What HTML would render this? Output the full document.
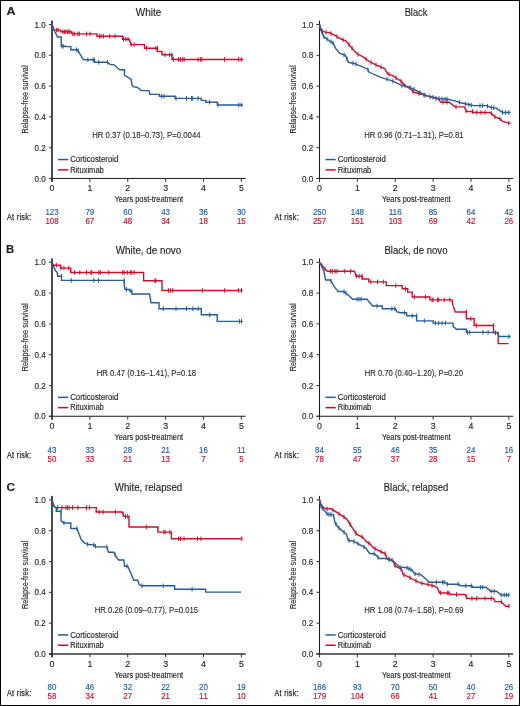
<!DOCTYPE html>
<html><head><meta charset="utf-8"><style>
html,body{margin:0;padding:0;background:#fff;}
svg{display:block;font-family:"Liberation Sans",sans-serif;will-change:transform;}
</style></head><body>
<svg width="520" height="706" viewBox="0 0 520 706">
<rect x="0" y="0" width="520" height="706" fill="#fff"/>
<text x="148.50" y="15.90" font-size="10" fill="#231f20" stroke="#231f20" stroke-width="0.15" text-anchor="middle" textLength="25.4" lengthAdjust="spacingAndGlyphs">White</text>
<rect x="51" y="20.50" width="2" height="161.40" fill="#4d4d4d"/>
<rect x="49.00" y="177.95" width="196.65" height="1.0" fill="#1a1a1a"/>
<rect x="48.90" y="178.00" width="3" height="1" fill="#333"/>
<text x="45.80" y="181.60" font-size="8.8" fill="#231f20" stroke="#231f20" stroke-width="0.15" text-anchor="end" textLength="11.2" lengthAdjust="spacingAndGlyphs">0.0</text>
<rect x="48.90" y="147.20" width="3" height="1" fill="#333"/>
<text x="45.80" y="150.80" font-size="8.8" fill="#231f20" stroke="#231f20" stroke-width="0.15" text-anchor="end" textLength="11.2" lengthAdjust="spacingAndGlyphs">0.2</text>
<rect x="48.90" y="116.40" width="3" height="1" fill="#333"/>
<text x="45.80" y="120.00" font-size="8.8" fill="#231f20" stroke="#231f20" stroke-width="0.15" text-anchor="end" textLength="11.2" lengthAdjust="spacingAndGlyphs">0.4</text>
<rect x="48.90" y="85.60" width="3" height="1" fill="#333"/>
<text x="45.80" y="89.20" font-size="8.8" fill="#231f20" stroke="#231f20" stroke-width="0.15" text-anchor="end" textLength="11.2" lengthAdjust="spacingAndGlyphs">0.6</text>
<rect x="48.90" y="54.80" width="3" height="1" fill="#333"/>
<text x="45.80" y="58.40" font-size="8.8" fill="#231f20" stroke="#231f20" stroke-width="0.15" text-anchor="end" textLength="11.2" lengthAdjust="spacingAndGlyphs">0.8</text>
<rect x="48.90" y="24.00" width="3" height="1" fill="#333"/>
<text x="45.80" y="27.60" font-size="8.8" fill="#231f20" stroke="#231f20" stroke-width="0.15" text-anchor="end" textLength="11.2" lengthAdjust="spacingAndGlyphs">1.0</text>
<rect x="51.50" y="178.50" width="1" height="3.4" fill="#333"/>
<text x="52.00" y="191.10" font-size="8.8" fill="#231f20" stroke="#231f20" stroke-width="0.15" text-anchor="middle">0</text>
<rect x="89.37" y="178.50" width="1" height="3.4" fill="#333"/>
<text x="89.87" y="191.10" font-size="8.8" fill="#231f20" stroke="#231f20" stroke-width="0.15" text-anchor="middle">1</text>
<rect x="127.24" y="178.50" width="1" height="3.4" fill="#333"/>
<text x="127.74" y="191.10" font-size="8.8" fill="#231f20" stroke="#231f20" stroke-width="0.15" text-anchor="middle">2</text>
<rect x="165.11" y="178.50" width="1" height="3.4" fill="#333"/>
<text x="165.61" y="191.10" font-size="8.8" fill="#231f20" stroke="#231f20" stroke-width="0.15" text-anchor="middle">3</text>
<rect x="202.98" y="178.50" width="1" height="3.4" fill="#333"/>
<text x="203.48" y="191.10" font-size="8.8" fill="#231f20" stroke="#231f20" stroke-width="0.15" text-anchor="middle">4</text>
<rect x="240.85" y="178.50" width="1" height="3.4" fill="#333"/>
<text x="241.35" y="191.10" font-size="8.8" fill="#231f20" stroke="#231f20" stroke-width="0.15" text-anchor="middle">5</text>
<text x="114.40" y="202.10" font-size="9.6" fill="#231f20" stroke="#231f20" stroke-width="0.15" textLength="68.8" lengthAdjust="spacingAndGlyphs">Years post-treatment</text>
<text transform="translate(28.4,99.5) rotate(-90)" font-size="9.8" fill="#231f20" stroke="#231f20" stroke-width="0.15" text-anchor="middle" textLength="68" lengthAdjust="spacingAndGlyphs">Relapse-free survival</text>
<text x="146.40" y="137.80" font-size="8.5" fill="#231f20" stroke="#231f20" stroke-width="0.1" text-anchor="middle" textLength="108.4" lengthAdjust="spacingAndGlyphs">HR 0.37 (0.18&#8211;0.73), P=0.0044</text>
<rect x="58.0" y="158.80" width="10.2" height="1.5" fill="#245e94"/>
<rect x="58.0" y="169.10" width="10.2" height="1.5" fill="#c8102e"/>
<text x="70.20" y="162.20" font-size="8.5" fill="#231f20" stroke="#231f20" stroke-width="0.15" textLength="48.2" lengthAdjust="spacingAndGlyphs">Corticosteroid</text>
<text x="70.20" y="172.50" font-size="8.5" fill="#231f20" stroke="#231f20" stroke-width="0.15" textLength="33.6" lengthAdjust="spacingAndGlyphs">Rituximab</text>
<text x="52.00" y="214.90" font-size="8.9" fill="#245e94" stroke="#245e94" stroke-width="0.15" text-anchor="middle" textLength="13.200000000000001" lengthAdjust="spacingAndGlyphs">123</text>
<text x="52.00" y="224.00" font-size="8.9" fill="#c8102e" stroke="#c8102e" stroke-width="0.15" text-anchor="middle" textLength="13.200000000000001" lengthAdjust="spacingAndGlyphs">108</text>
<text x="89.87" y="214.90" font-size="8.9" fill="#245e94" stroke="#245e94" stroke-width="0.15" text-anchor="middle" textLength="8.8" lengthAdjust="spacingAndGlyphs">79</text>
<text x="89.87" y="224.00" font-size="8.9" fill="#c8102e" stroke="#c8102e" stroke-width="0.15" text-anchor="middle" textLength="8.8" lengthAdjust="spacingAndGlyphs">67</text>
<text x="127.74" y="214.90" font-size="8.9" fill="#245e94" stroke="#245e94" stroke-width="0.15" text-anchor="middle" textLength="8.8" lengthAdjust="spacingAndGlyphs">60</text>
<text x="127.74" y="224.00" font-size="8.9" fill="#c8102e" stroke="#c8102e" stroke-width="0.15" text-anchor="middle" textLength="8.8" lengthAdjust="spacingAndGlyphs">48</text>
<text x="165.61" y="214.90" font-size="8.9" fill="#245e94" stroke="#245e94" stroke-width="0.15" text-anchor="middle" textLength="8.8" lengthAdjust="spacingAndGlyphs">43</text>
<text x="165.61" y="224.00" font-size="8.9" fill="#c8102e" stroke="#c8102e" stroke-width="0.15" text-anchor="middle" textLength="8.8" lengthAdjust="spacingAndGlyphs">34</text>
<text x="203.48" y="214.90" font-size="8.9" fill="#245e94" stroke="#245e94" stroke-width="0.15" text-anchor="middle" textLength="8.8" lengthAdjust="spacingAndGlyphs">36</text>
<text x="203.48" y="224.00" font-size="8.9" fill="#c8102e" stroke="#c8102e" stroke-width="0.15" text-anchor="middle" textLength="8.8" lengthAdjust="spacingAndGlyphs">18</text>
<text x="241.35" y="214.90" font-size="8.9" fill="#245e94" stroke="#245e94" stroke-width="0.15" text-anchor="middle" textLength="8.8" lengthAdjust="spacingAndGlyphs">30</text>
<text x="241.35" y="224.00" font-size="8.9" fill="#c8102e" stroke="#c8102e" stroke-width="0.15" text-anchor="middle" textLength="8.8" lengthAdjust="spacingAndGlyphs">15</text>
<text x="6.90" y="220.20" font-size="8.6" fill="#231f20" stroke="#231f20" stroke-width="0.25" textLength="24.6" lengthAdjust="spacingAndGlyphs" letter-spacing="0.4">At risk:</text>
<text x="6.60" y="15.10" font-size="11.3" fill="#231f20" stroke="#231f20" stroke-width="0.15" textLength="9.0" lengthAdjust="spacingAndGlyphs" font-weight="bold">A</text>
<text x="416.00" y="15.90" font-size="10" fill="#231f20" stroke="#231f20" stroke-width="0.15" text-anchor="middle" textLength="22.6" lengthAdjust="spacingAndGlyphs">Black</text>
<rect x="319" y="20.50" width="1.05" height="161.40" fill="#1a1a1a"/>
<rect x="316.50" y="177.95" width="196.65" height="1.0" fill="#1a1a1a"/>
<rect x="316.40" y="178.00" width="3" height="1" fill="#333"/>
<text x="313.30" y="181.60" font-size="8.8" fill="#231f20" stroke="#231f20" stroke-width="0.15" text-anchor="end" textLength="11.2" lengthAdjust="spacingAndGlyphs">0.0</text>
<rect x="316.40" y="147.20" width="3" height="1" fill="#333"/>
<text x="313.30" y="150.80" font-size="8.8" fill="#231f20" stroke="#231f20" stroke-width="0.15" text-anchor="end" textLength="11.2" lengthAdjust="spacingAndGlyphs">0.2</text>
<rect x="316.40" y="116.40" width="3" height="1" fill="#333"/>
<text x="313.30" y="120.00" font-size="8.8" fill="#231f20" stroke="#231f20" stroke-width="0.15" text-anchor="end" textLength="11.2" lengthAdjust="spacingAndGlyphs">0.4</text>
<rect x="316.40" y="85.60" width="3" height="1" fill="#333"/>
<text x="313.30" y="89.20" font-size="8.8" fill="#231f20" stroke="#231f20" stroke-width="0.15" text-anchor="end" textLength="11.2" lengthAdjust="spacingAndGlyphs">0.6</text>
<rect x="316.40" y="54.80" width="3" height="1" fill="#333"/>
<text x="313.30" y="58.40" font-size="8.8" fill="#231f20" stroke="#231f20" stroke-width="0.15" text-anchor="end" textLength="11.2" lengthAdjust="spacingAndGlyphs">0.8</text>
<rect x="316.40" y="24.00" width="3" height="1" fill="#333"/>
<text x="313.30" y="27.60" font-size="8.8" fill="#231f20" stroke="#231f20" stroke-width="0.15" text-anchor="end" textLength="11.2" lengthAdjust="spacingAndGlyphs">1.0</text>
<rect x="319.00" y="178.50" width="1" height="3.4" fill="#333"/>
<text x="319.50" y="191.10" font-size="8.8" fill="#231f20" stroke="#231f20" stroke-width="0.15" text-anchor="middle">0</text>
<rect x="356.87" y="178.50" width="1" height="3.4" fill="#333"/>
<text x="357.37" y="191.10" font-size="8.8" fill="#231f20" stroke="#231f20" stroke-width="0.15" text-anchor="middle">1</text>
<rect x="394.74" y="178.50" width="1" height="3.4" fill="#333"/>
<text x="395.24" y="191.10" font-size="8.8" fill="#231f20" stroke="#231f20" stroke-width="0.15" text-anchor="middle">2</text>
<rect x="432.61" y="178.50" width="1" height="3.4" fill="#333"/>
<text x="433.11" y="191.10" font-size="8.8" fill="#231f20" stroke="#231f20" stroke-width="0.15" text-anchor="middle">3</text>
<rect x="470.48" y="178.50" width="1" height="3.4" fill="#333"/>
<text x="470.98" y="191.10" font-size="8.8" fill="#231f20" stroke="#231f20" stroke-width="0.15" text-anchor="middle">4</text>
<rect x="508.35" y="178.50" width="1" height="3.4" fill="#333"/>
<text x="508.85" y="191.10" font-size="8.8" fill="#231f20" stroke="#231f20" stroke-width="0.15" text-anchor="middle">5</text>
<text x="381.90" y="202.10" font-size="9.6" fill="#231f20" stroke="#231f20" stroke-width="0.15" textLength="68.8" lengthAdjust="spacingAndGlyphs">Years post-treatment</text>
<text transform="translate(295.9,99.5) rotate(-90)" font-size="9.8" fill="#231f20" stroke="#231f20" stroke-width="0.15" text-anchor="middle" textLength="68" lengthAdjust="spacingAndGlyphs">Relapse-free survival</text>
<text x="413.90" y="137.80" font-size="8.5" fill="#231f20" stroke="#231f20" stroke-width="0.1" text-anchor="middle" textLength="99.5" lengthAdjust="spacingAndGlyphs">HR 0.96 (0.71&#8211;1.31), P=0.81</text>
<rect x="325.5" y="158.80" width="10.2" height="1.5" fill="#245e94"/>
<rect x="325.5" y="169.10" width="10.2" height="1.5" fill="#c8102e"/>
<text x="337.70" y="162.20" font-size="8.5" fill="#231f20" stroke="#231f20" stroke-width="0.15" textLength="48.2" lengthAdjust="spacingAndGlyphs">Corticosteroid</text>
<text x="337.70" y="172.50" font-size="8.5" fill="#231f20" stroke="#231f20" stroke-width="0.15" textLength="33.6" lengthAdjust="spacingAndGlyphs">Rituximab</text>
<text x="319.50" y="214.90" font-size="8.9" fill="#245e94" stroke="#245e94" stroke-width="0.15" text-anchor="middle" textLength="13.200000000000001" lengthAdjust="spacingAndGlyphs">250</text>
<text x="319.50" y="224.00" font-size="8.9" fill="#c8102e" stroke="#c8102e" stroke-width="0.15" text-anchor="middle" textLength="13.200000000000001" lengthAdjust="spacingAndGlyphs">257</text>
<text x="357.37" y="214.90" font-size="8.9" fill="#245e94" stroke="#245e94" stroke-width="0.15" text-anchor="middle" textLength="13.200000000000001" lengthAdjust="spacingAndGlyphs">148</text>
<text x="357.37" y="224.00" font-size="8.9" fill="#c8102e" stroke="#c8102e" stroke-width="0.15" text-anchor="middle" textLength="13.200000000000001" lengthAdjust="spacingAndGlyphs">151</text>
<text x="395.24" y="214.90" font-size="8.9" fill="#245e94" stroke="#245e94" stroke-width="0.15" text-anchor="middle" textLength="13.200000000000001" lengthAdjust="spacingAndGlyphs">116</text>
<text x="395.24" y="224.00" font-size="8.9" fill="#c8102e" stroke="#c8102e" stroke-width="0.15" text-anchor="middle" textLength="13.200000000000001" lengthAdjust="spacingAndGlyphs">103</text>
<text x="433.11" y="214.90" font-size="8.9" fill="#245e94" stroke="#245e94" stroke-width="0.15" text-anchor="middle" textLength="8.8" lengthAdjust="spacingAndGlyphs">85</text>
<text x="433.11" y="224.00" font-size="8.9" fill="#c8102e" stroke="#c8102e" stroke-width="0.15" text-anchor="middle" textLength="8.8" lengthAdjust="spacingAndGlyphs">69</text>
<text x="470.98" y="214.90" font-size="8.9" fill="#245e94" stroke="#245e94" stroke-width="0.15" text-anchor="middle" textLength="8.8" lengthAdjust="spacingAndGlyphs">64</text>
<text x="470.98" y="224.00" font-size="8.9" fill="#c8102e" stroke="#c8102e" stroke-width="0.15" text-anchor="middle" textLength="8.8" lengthAdjust="spacingAndGlyphs">42</text>
<text x="508.85" y="214.90" font-size="8.9" fill="#245e94" stroke="#245e94" stroke-width="0.15" text-anchor="middle" textLength="8.8" lengthAdjust="spacingAndGlyphs">42</text>
<text x="508.85" y="224.00" font-size="8.9" fill="#c8102e" stroke="#c8102e" stroke-width="0.15" text-anchor="middle" textLength="8.8" lengthAdjust="spacingAndGlyphs">26</text>
<text x="274.40" y="220.20" font-size="8.6" fill="#231f20" stroke="#231f20" stroke-width="0.25" textLength="24.6" lengthAdjust="spacingAndGlyphs" letter-spacing="0.4">At risk:</text>
<text x="148.50" y="253.70" font-size="10" fill="#231f20" stroke="#231f20" stroke-width="0.15" text-anchor="middle" textLength="65.5" lengthAdjust="spacingAndGlyphs">White, de novo</text>
<rect x="51" y="258.30" width="2" height="161.40" fill="#4d4d4d"/>
<rect x="49.00" y="415.75" width="196.65" height="1.0" fill="#1a1a1a"/>
<rect x="48.90" y="415.80" width="3" height="1" fill="#333"/>
<text x="45.80" y="419.40" font-size="8.8" fill="#231f20" stroke="#231f20" stroke-width="0.15" text-anchor="end" textLength="11.2" lengthAdjust="spacingAndGlyphs">0.0</text>
<rect x="48.90" y="385.00" width="3" height="1" fill="#333"/>
<text x="45.80" y="388.60" font-size="8.8" fill="#231f20" stroke="#231f20" stroke-width="0.15" text-anchor="end" textLength="11.2" lengthAdjust="spacingAndGlyphs">0.2</text>
<rect x="48.90" y="354.20" width="3" height="1" fill="#333"/>
<text x="45.80" y="357.80" font-size="8.8" fill="#231f20" stroke="#231f20" stroke-width="0.15" text-anchor="end" textLength="11.2" lengthAdjust="spacingAndGlyphs">0.4</text>
<rect x="48.90" y="323.40" width="3" height="1" fill="#333"/>
<text x="45.80" y="327.00" font-size="8.8" fill="#231f20" stroke="#231f20" stroke-width="0.15" text-anchor="end" textLength="11.2" lengthAdjust="spacingAndGlyphs">0.6</text>
<rect x="48.90" y="292.60" width="3" height="1" fill="#333"/>
<text x="45.80" y="296.20" font-size="8.8" fill="#231f20" stroke="#231f20" stroke-width="0.15" text-anchor="end" textLength="11.2" lengthAdjust="spacingAndGlyphs">0.8</text>
<rect x="48.90" y="261.80" width="3" height="1" fill="#333"/>
<text x="45.80" y="265.40" font-size="8.8" fill="#231f20" stroke="#231f20" stroke-width="0.15" text-anchor="end" textLength="11.2" lengthAdjust="spacingAndGlyphs">1.0</text>
<rect x="51.50" y="416.30" width="1" height="3.4" fill="#333"/>
<text x="52.00" y="428.90" font-size="8.8" fill="#231f20" stroke="#231f20" stroke-width="0.15" text-anchor="middle">0</text>
<rect x="89.37" y="416.30" width="1" height="3.4" fill="#333"/>
<text x="89.87" y="428.90" font-size="8.8" fill="#231f20" stroke="#231f20" stroke-width="0.15" text-anchor="middle">1</text>
<rect x="127.24" y="416.30" width="1" height="3.4" fill="#333"/>
<text x="127.74" y="428.90" font-size="8.8" fill="#231f20" stroke="#231f20" stroke-width="0.15" text-anchor="middle">2</text>
<rect x="165.11" y="416.30" width="1" height="3.4" fill="#333"/>
<text x="165.61" y="428.90" font-size="8.8" fill="#231f20" stroke="#231f20" stroke-width="0.15" text-anchor="middle">3</text>
<rect x="202.98" y="416.30" width="1" height="3.4" fill="#333"/>
<text x="203.48" y="428.90" font-size="8.8" fill="#231f20" stroke="#231f20" stroke-width="0.15" text-anchor="middle">4</text>
<rect x="240.85" y="416.30" width="1" height="3.4" fill="#333"/>
<text x="241.35" y="428.90" font-size="8.8" fill="#231f20" stroke="#231f20" stroke-width="0.15" text-anchor="middle">5</text>
<text x="114.40" y="439.90" font-size="9.6" fill="#231f20" stroke="#231f20" stroke-width="0.15" textLength="68.8" lengthAdjust="spacingAndGlyphs">Years post-treatment</text>
<text transform="translate(28.4,337.3) rotate(-90)" font-size="9.8" fill="#231f20" stroke="#231f20" stroke-width="0.15" text-anchor="middle" textLength="68" lengthAdjust="spacingAndGlyphs">Relapse-free survival</text>
<text x="146.40" y="375.60" font-size="8.5" fill="#231f20" stroke="#231f20" stroke-width="0.1" text-anchor="middle" textLength="99.5" lengthAdjust="spacingAndGlyphs">HR 0.47 (0.16&#8211;1.41), P=0.18</text>
<rect x="58.0" y="396.60" width="10.2" height="1.5" fill="#245e94"/>
<rect x="58.0" y="406.90" width="10.2" height="1.5" fill="#c8102e"/>
<text x="70.20" y="400.00" font-size="8.5" fill="#231f20" stroke="#231f20" stroke-width="0.15" textLength="48.2" lengthAdjust="spacingAndGlyphs">Corticosteroid</text>
<text x="70.20" y="410.30" font-size="8.5" fill="#231f20" stroke="#231f20" stroke-width="0.15" textLength="33.6" lengthAdjust="spacingAndGlyphs">Rituximab</text>
<text x="52.00" y="452.70" font-size="8.9" fill="#245e94" stroke="#245e94" stroke-width="0.15" text-anchor="middle" textLength="8.8" lengthAdjust="spacingAndGlyphs">43</text>
<text x="52.00" y="461.80" font-size="8.9" fill="#c8102e" stroke="#c8102e" stroke-width="0.15" text-anchor="middle" textLength="8.8" lengthAdjust="spacingAndGlyphs">50</text>
<text x="89.87" y="452.70" font-size="8.9" fill="#245e94" stroke="#245e94" stroke-width="0.15" text-anchor="middle" textLength="8.8" lengthAdjust="spacingAndGlyphs">33</text>
<text x="89.87" y="461.80" font-size="8.9" fill="#c8102e" stroke="#c8102e" stroke-width="0.15" text-anchor="middle" textLength="8.8" lengthAdjust="spacingAndGlyphs">33</text>
<text x="127.74" y="452.70" font-size="8.9" fill="#245e94" stroke="#245e94" stroke-width="0.15" text-anchor="middle" textLength="8.8" lengthAdjust="spacingAndGlyphs">28</text>
<text x="127.74" y="461.80" font-size="8.9" fill="#c8102e" stroke="#c8102e" stroke-width="0.15" text-anchor="middle" textLength="8.8" lengthAdjust="spacingAndGlyphs">21</text>
<text x="165.61" y="452.70" font-size="8.9" fill="#245e94" stroke="#245e94" stroke-width="0.15" text-anchor="middle" textLength="8.8" lengthAdjust="spacingAndGlyphs">21</text>
<text x="165.61" y="461.80" font-size="8.9" fill="#c8102e" stroke="#c8102e" stroke-width="0.15" text-anchor="middle" textLength="8.8" lengthAdjust="spacingAndGlyphs">13</text>
<text x="203.48" y="452.70" font-size="8.9" fill="#245e94" stroke="#245e94" stroke-width="0.15" text-anchor="middle" textLength="8.8" lengthAdjust="spacingAndGlyphs">16</text>
<text x="203.48" y="461.80" font-size="8.9" fill="#c8102e" stroke="#c8102e" stroke-width="0.15" text-anchor="middle" textLength="4.4" lengthAdjust="spacingAndGlyphs">7</text>
<text x="241.35" y="452.70" font-size="8.9" fill="#245e94" stroke="#245e94" stroke-width="0.15" text-anchor="middle" textLength="8.8" lengthAdjust="spacingAndGlyphs">11</text>
<text x="241.35" y="461.80" font-size="8.9" fill="#c8102e" stroke="#c8102e" stroke-width="0.15" text-anchor="middle" textLength="4.4" lengthAdjust="spacingAndGlyphs">5</text>
<text x="6.90" y="458.00" font-size="8.6" fill="#231f20" stroke="#231f20" stroke-width="0.25" textLength="24.6" lengthAdjust="spacingAndGlyphs" letter-spacing="0.4">At risk:</text>
<text x="6.00" y="252.90" font-size="11.3" fill="#231f20" stroke="#231f20" stroke-width="0.15" textLength="8.2" lengthAdjust="spacingAndGlyphs" font-weight="bold">B</text>
<text x="416.00" y="253.70" font-size="10" fill="#231f20" stroke="#231f20" stroke-width="0.15" text-anchor="middle" textLength="63.1" lengthAdjust="spacingAndGlyphs">Black, de novo</text>
<rect x="319" y="258.30" width="1.05" height="161.40" fill="#1a1a1a"/>
<rect x="316.50" y="415.75" width="196.65" height="1.0" fill="#1a1a1a"/>
<rect x="316.40" y="415.80" width="3" height="1" fill="#333"/>
<text x="313.30" y="419.40" font-size="8.8" fill="#231f20" stroke="#231f20" stroke-width="0.15" text-anchor="end" textLength="11.2" lengthAdjust="spacingAndGlyphs">0.0</text>
<rect x="316.40" y="385.00" width="3" height="1" fill="#333"/>
<text x="313.30" y="388.60" font-size="8.8" fill="#231f20" stroke="#231f20" stroke-width="0.15" text-anchor="end" textLength="11.2" lengthAdjust="spacingAndGlyphs">0.2</text>
<rect x="316.40" y="354.20" width="3" height="1" fill="#333"/>
<text x="313.30" y="357.80" font-size="8.8" fill="#231f20" stroke="#231f20" stroke-width="0.15" text-anchor="end" textLength="11.2" lengthAdjust="spacingAndGlyphs">0.4</text>
<rect x="316.40" y="323.40" width="3" height="1" fill="#333"/>
<text x="313.30" y="327.00" font-size="8.8" fill="#231f20" stroke="#231f20" stroke-width="0.15" text-anchor="end" textLength="11.2" lengthAdjust="spacingAndGlyphs">0.6</text>
<rect x="316.40" y="292.60" width="3" height="1" fill="#333"/>
<text x="313.30" y="296.20" font-size="8.8" fill="#231f20" stroke="#231f20" stroke-width="0.15" text-anchor="end" textLength="11.2" lengthAdjust="spacingAndGlyphs">0.8</text>
<rect x="316.40" y="261.80" width="3" height="1" fill="#333"/>
<text x="313.30" y="265.40" font-size="8.8" fill="#231f20" stroke="#231f20" stroke-width="0.15" text-anchor="end" textLength="11.2" lengthAdjust="spacingAndGlyphs">1.0</text>
<rect x="319.00" y="416.30" width="1" height="3.4" fill="#333"/>
<text x="319.50" y="428.90" font-size="8.8" fill="#231f20" stroke="#231f20" stroke-width="0.15" text-anchor="middle">0</text>
<rect x="356.87" y="416.30" width="1" height="3.4" fill="#333"/>
<text x="357.37" y="428.90" font-size="8.8" fill="#231f20" stroke="#231f20" stroke-width="0.15" text-anchor="middle">1</text>
<rect x="394.74" y="416.30" width="1" height="3.4" fill="#333"/>
<text x="395.24" y="428.90" font-size="8.8" fill="#231f20" stroke="#231f20" stroke-width="0.15" text-anchor="middle">2</text>
<rect x="432.61" y="416.30" width="1" height="3.4" fill="#333"/>
<text x="433.11" y="428.90" font-size="8.8" fill="#231f20" stroke="#231f20" stroke-width="0.15" text-anchor="middle">3</text>
<rect x="470.48" y="416.30" width="1" height="3.4" fill="#333"/>
<text x="470.98" y="428.90" font-size="8.8" fill="#231f20" stroke="#231f20" stroke-width="0.15" text-anchor="middle">4</text>
<rect x="508.35" y="416.30" width="1" height="3.4" fill="#333"/>
<text x="508.85" y="428.90" font-size="8.8" fill="#231f20" stroke="#231f20" stroke-width="0.15" text-anchor="middle">5</text>
<text x="381.90" y="439.90" font-size="9.6" fill="#231f20" stroke="#231f20" stroke-width="0.15" textLength="68.8" lengthAdjust="spacingAndGlyphs">Years post-treatment</text>
<text transform="translate(295.9,337.3) rotate(-90)" font-size="9.8" fill="#231f20" stroke="#231f20" stroke-width="0.15" text-anchor="middle" textLength="68" lengthAdjust="spacingAndGlyphs">Relapse-free survival</text>
<text x="413.90" y="375.60" font-size="8.5" fill="#231f20" stroke="#231f20" stroke-width="0.1" text-anchor="middle" textLength="98.3" lengthAdjust="spacingAndGlyphs">HR 0.70 (0.40&#8211;1.20), P=0.20</text>
<rect x="325.5" y="396.60" width="10.2" height="1.5" fill="#245e94"/>
<rect x="325.5" y="406.90" width="10.2" height="1.5" fill="#c8102e"/>
<text x="337.70" y="400.00" font-size="8.5" fill="#231f20" stroke="#231f20" stroke-width="0.15" textLength="48.2" lengthAdjust="spacingAndGlyphs">Corticosteroid</text>
<text x="337.70" y="410.30" font-size="8.5" fill="#231f20" stroke="#231f20" stroke-width="0.15" textLength="33.6" lengthAdjust="spacingAndGlyphs">Rituximab</text>
<text x="319.50" y="452.70" font-size="8.9" fill="#245e94" stroke="#245e94" stroke-width="0.15" text-anchor="middle" textLength="8.8" lengthAdjust="spacingAndGlyphs">84</text>
<text x="319.50" y="461.80" font-size="8.9" fill="#c8102e" stroke="#c8102e" stroke-width="0.15" text-anchor="middle" textLength="8.8" lengthAdjust="spacingAndGlyphs">78</text>
<text x="357.37" y="452.70" font-size="8.9" fill="#245e94" stroke="#245e94" stroke-width="0.15" text-anchor="middle" textLength="8.8" lengthAdjust="spacingAndGlyphs">55</text>
<text x="357.37" y="461.80" font-size="8.9" fill="#c8102e" stroke="#c8102e" stroke-width="0.15" text-anchor="middle" textLength="8.8" lengthAdjust="spacingAndGlyphs">47</text>
<text x="395.24" y="452.70" font-size="8.9" fill="#245e94" stroke="#245e94" stroke-width="0.15" text-anchor="middle" textLength="8.8" lengthAdjust="spacingAndGlyphs">46</text>
<text x="395.24" y="461.80" font-size="8.9" fill="#c8102e" stroke="#c8102e" stroke-width="0.15" text-anchor="middle" textLength="8.8" lengthAdjust="spacingAndGlyphs">37</text>
<text x="433.11" y="452.70" font-size="8.9" fill="#245e94" stroke="#245e94" stroke-width="0.15" text-anchor="middle" textLength="8.8" lengthAdjust="spacingAndGlyphs">35</text>
<text x="433.11" y="461.80" font-size="8.9" fill="#c8102e" stroke="#c8102e" stroke-width="0.15" text-anchor="middle" textLength="8.8" lengthAdjust="spacingAndGlyphs">28</text>
<text x="470.98" y="452.70" font-size="8.9" fill="#245e94" stroke="#245e94" stroke-width="0.15" text-anchor="middle" textLength="8.8" lengthAdjust="spacingAndGlyphs">24</text>
<text x="470.98" y="461.80" font-size="8.9" fill="#c8102e" stroke="#c8102e" stroke-width="0.15" text-anchor="middle" textLength="8.8" lengthAdjust="spacingAndGlyphs">15</text>
<text x="508.85" y="452.70" font-size="8.9" fill="#245e94" stroke="#245e94" stroke-width="0.15" text-anchor="middle" textLength="8.8" lengthAdjust="spacingAndGlyphs">16</text>
<text x="508.85" y="461.80" font-size="8.9" fill="#c8102e" stroke="#c8102e" stroke-width="0.15" text-anchor="middle" textLength="4.4" lengthAdjust="spacingAndGlyphs">7</text>
<text x="274.40" y="458.00" font-size="8.6" fill="#231f20" stroke="#231f20" stroke-width="0.25" textLength="24.6" lengthAdjust="spacingAndGlyphs" letter-spacing="0.4">At risk:</text>
<text x="148.50" y="491.30" font-size="10" fill="#231f20" stroke="#231f20" stroke-width="0.15" text-anchor="middle" textLength="67.5" lengthAdjust="spacingAndGlyphs">White, relapsed</text>
<rect x="51" y="495.90" width="2" height="161.40" fill="#4d4d4d"/>
<rect x="49.00" y="653.35" width="196.65" height="1.3" fill="#1a1a1a"/>
<rect x="48.90" y="653.40" width="3" height="1" fill="#333"/>
<text x="45.80" y="657.00" font-size="8.8" fill="#231f20" stroke="#231f20" stroke-width="0.15" text-anchor="end" textLength="11.2" lengthAdjust="spacingAndGlyphs">0.0</text>
<rect x="48.90" y="622.60" width="3" height="1" fill="#333"/>
<text x="45.80" y="626.20" font-size="8.8" fill="#231f20" stroke="#231f20" stroke-width="0.15" text-anchor="end" textLength="11.2" lengthAdjust="spacingAndGlyphs">0.2</text>
<rect x="48.90" y="591.80" width="3" height="1" fill="#333"/>
<text x="45.80" y="595.40" font-size="8.8" fill="#231f20" stroke="#231f20" stroke-width="0.15" text-anchor="end" textLength="11.2" lengthAdjust="spacingAndGlyphs">0.4</text>
<rect x="48.90" y="561.00" width="3" height="1" fill="#333"/>
<text x="45.80" y="564.60" font-size="8.8" fill="#231f20" stroke="#231f20" stroke-width="0.15" text-anchor="end" textLength="11.2" lengthAdjust="spacingAndGlyphs">0.6</text>
<rect x="48.90" y="530.20" width="3" height="1" fill="#333"/>
<text x="45.80" y="533.80" font-size="8.8" fill="#231f20" stroke="#231f20" stroke-width="0.15" text-anchor="end" textLength="11.2" lengthAdjust="spacingAndGlyphs">0.8</text>
<rect x="48.90" y="499.40" width="3" height="1" fill="#333"/>
<text x="45.80" y="503.00" font-size="8.8" fill="#231f20" stroke="#231f20" stroke-width="0.15" text-anchor="end" textLength="11.2" lengthAdjust="spacingAndGlyphs">1.0</text>
<rect x="51.50" y="653.90" width="1" height="3.4" fill="#333"/>
<text x="52.00" y="666.50" font-size="8.8" fill="#231f20" stroke="#231f20" stroke-width="0.15" text-anchor="middle">0</text>
<rect x="89.37" y="653.90" width="1" height="3.4" fill="#333"/>
<text x="89.87" y="666.50" font-size="8.8" fill="#231f20" stroke="#231f20" stroke-width="0.15" text-anchor="middle">1</text>
<rect x="127.24" y="653.90" width="1" height="3.4" fill="#333"/>
<text x="127.74" y="666.50" font-size="8.8" fill="#231f20" stroke="#231f20" stroke-width="0.15" text-anchor="middle">2</text>
<rect x="165.11" y="653.90" width="1" height="3.4" fill="#333"/>
<text x="165.61" y="666.50" font-size="8.8" fill="#231f20" stroke="#231f20" stroke-width="0.15" text-anchor="middle">3</text>
<rect x="202.98" y="653.90" width="1" height="3.4" fill="#333"/>
<text x="203.48" y="666.50" font-size="8.8" fill="#231f20" stroke="#231f20" stroke-width="0.15" text-anchor="middle">4</text>
<rect x="240.85" y="653.90" width="1" height="3.4" fill="#333"/>
<text x="241.35" y="666.50" font-size="8.8" fill="#231f20" stroke="#231f20" stroke-width="0.15" text-anchor="middle">5</text>
<text x="114.40" y="677.50" font-size="9.6" fill="#231f20" stroke="#231f20" stroke-width="0.15" textLength="68.8" lengthAdjust="spacingAndGlyphs">Years post-treatment</text>
<text transform="translate(28.4,574.9) rotate(-90)" font-size="9.8" fill="#231f20" stroke="#231f20" stroke-width="0.15" text-anchor="middle" textLength="68" lengthAdjust="spacingAndGlyphs">Relapse-free survival</text>
<text x="146.40" y="613.20" font-size="8.5" fill="#231f20" stroke="#231f20" stroke-width="0.1" text-anchor="middle" textLength="103.4" lengthAdjust="spacingAndGlyphs">HR 0.26 (0.09&#8211;0.77), P=0.015</text>
<rect x="58.0" y="634.20" width="10.2" height="1.5" fill="#245e94"/>
<rect x="58.0" y="644.50" width="10.2" height="1.5" fill="#c8102e"/>
<text x="70.20" y="637.60" font-size="8.5" fill="#231f20" stroke="#231f20" stroke-width="0.15" textLength="48.2" lengthAdjust="spacingAndGlyphs">Corticosteroid</text>
<text x="70.20" y="647.90" font-size="8.5" fill="#231f20" stroke="#231f20" stroke-width="0.15" textLength="33.6" lengthAdjust="spacingAndGlyphs">Rituximab</text>
<text x="52.00" y="690.30" font-size="8.9" fill="#245e94" stroke="#245e94" stroke-width="0.15" text-anchor="middle" textLength="8.8" lengthAdjust="spacingAndGlyphs">80</text>
<text x="52.00" y="699.40" font-size="8.9" fill="#c8102e" stroke="#c8102e" stroke-width="0.15" text-anchor="middle" textLength="8.8" lengthAdjust="spacingAndGlyphs">58</text>
<text x="89.87" y="690.30" font-size="8.9" fill="#245e94" stroke="#245e94" stroke-width="0.15" text-anchor="middle" textLength="8.8" lengthAdjust="spacingAndGlyphs">46</text>
<text x="89.87" y="699.40" font-size="8.9" fill="#c8102e" stroke="#c8102e" stroke-width="0.15" text-anchor="middle" textLength="8.8" lengthAdjust="spacingAndGlyphs">34</text>
<text x="127.74" y="690.30" font-size="8.9" fill="#245e94" stroke="#245e94" stroke-width="0.15" text-anchor="middle" textLength="8.8" lengthAdjust="spacingAndGlyphs">32</text>
<text x="127.74" y="699.40" font-size="8.9" fill="#c8102e" stroke="#c8102e" stroke-width="0.15" text-anchor="middle" textLength="8.8" lengthAdjust="spacingAndGlyphs">27</text>
<text x="165.61" y="690.30" font-size="8.9" fill="#245e94" stroke="#245e94" stroke-width="0.15" text-anchor="middle" textLength="8.8" lengthAdjust="spacingAndGlyphs">22</text>
<text x="165.61" y="699.40" font-size="8.9" fill="#c8102e" stroke="#c8102e" stroke-width="0.15" text-anchor="middle" textLength="8.8" lengthAdjust="spacingAndGlyphs">21</text>
<text x="203.48" y="690.30" font-size="8.9" fill="#245e94" stroke="#245e94" stroke-width="0.15" text-anchor="middle" textLength="8.8" lengthAdjust="spacingAndGlyphs">20</text>
<text x="203.48" y="699.40" font-size="8.9" fill="#c8102e" stroke="#c8102e" stroke-width="0.15" text-anchor="middle" textLength="8.8" lengthAdjust="spacingAndGlyphs">11</text>
<text x="241.35" y="690.30" font-size="8.9" fill="#245e94" stroke="#245e94" stroke-width="0.15" text-anchor="middle" textLength="8.8" lengthAdjust="spacingAndGlyphs">19</text>
<text x="241.35" y="699.40" font-size="8.9" fill="#c8102e" stroke="#c8102e" stroke-width="0.15" text-anchor="middle" textLength="8.8" lengthAdjust="spacingAndGlyphs">10</text>
<text x="6.90" y="695.60" font-size="8.6" fill="#231f20" stroke="#231f20" stroke-width="0.25" textLength="24.6" lengthAdjust="spacingAndGlyphs" letter-spacing="0.4">At risk:</text>
<text x="6.40" y="490.50" font-size="11.3" fill="#231f20" stroke="#231f20" stroke-width="0.15" textLength="8.6" lengthAdjust="spacingAndGlyphs" font-weight="bold">C</text>
<text x="416.00" y="491.30" font-size="10" fill="#231f20" stroke="#231f20" stroke-width="0.15" text-anchor="middle" textLength="64.5" lengthAdjust="spacingAndGlyphs">Black, relapsed</text>
<rect x="319" y="495.90" width="1.05" height="161.40" fill="#1a1a1a"/>
<rect x="316.50" y="653.35" width="196.65" height="1.3" fill="#1a1a1a"/>
<rect x="316.40" y="653.40" width="3" height="1" fill="#333"/>
<text x="313.30" y="657.00" font-size="8.8" fill="#231f20" stroke="#231f20" stroke-width="0.15" text-anchor="end" textLength="11.2" lengthAdjust="spacingAndGlyphs">0.0</text>
<rect x="316.40" y="622.60" width="3" height="1" fill="#333"/>
<text x="313.30" y="626.20" font-size="8.8" fill="#231f20" stroke="#231f20" stroke-width="0.15" text-anchor="end" textLength="11.2" lengthAdjust="spacingAndGlyphs">0.2</text>
<rect x="316.40" y="591.80" width="3" height="1" fill="#333"/>
<text x="313.30" y="595.40" font-size="8.8" fill="#231f20" stroke="#231f20" stroke-width="0.15" text-anchor="end" textLength="11.2" lengthAdjust="spacingAndGlyphs">0.4</text>
<rect x="316.40" y="561.00" width="3" height="1" fill="#333"/>
<text x="313.30" y="564.60" font-size="8.8" fill="#231f20" stroke="#231f20" stroke-width="0.15" text-anchor="end" textLength="11.2" lengthAdjust="spacingAndGlyphs">0.6</text>
<rect x="316.40" y="530.20" width="3" height="1" fill="#333"/>
<text x="313.30" y="533.80" font-size="8.8" fill="#231f20" stroke="#231f20" stroke-width="0.15" text-anchor="end" textLength="11.2" lengthAdjust="spacingAndGlyphs">0.8</text>
<rect x="316.40" y="499.40" width="3" height="1" fill="#333"/>
<text x="313.30" y="503.00" font-size="8.8" fill="#231f20" stroke="#231f20" stroke-width="0.15" text-anchor="end" textLength="11.2" lengthAdjust="spacingAndGlyphs">1.0</text>
<rect x="319.00" y="653.90" width="1" height="3.4" fill="#333"/>
<text x="319.50" y="666.50" font-size="8.8" fill="#231f20" stroke="#231f20" stroke-width="0.15" text-anchor="middle">0</text>
<rect x="356.87" y="653.90" width="1" height="3.4" fill="#333"/>
<text x="357.37" y="666.50" font-size="8.8" fill="#231f20" stroke="#231f20" stroke-width="0.15" text-anchor="middle">1</text>
<rect x="394.74" y="653.90" width="1" height="3.4" fill="#333"/>
<text x="395.24" y="666.50" font-size="8.8" fill="#231f20" stroke="#231f20" stroke-width="0.15" text-anchor="middle">2</text>
<rect x="432.61" y="653.90" width="1" height="3.4" fill="#333"/>
<text x="433.11" y="666.50" font-size="8.8" fill="#231f20" stroke="#231f20" stroke-width="0.15" text-anchor="middle">3</text>
<rect x="470.48" y="653.90" width="1" height="3.4" fill="#333"/>
<text x="470.98" y="666.50" font-size="8.8" fill="#231f20" stroke="#231f20" stroke-width="0.15" text-anchor="middle">4</text>
<rect x="508.35" y="653.90" width="1" height="3.4" fill="#333"/>
<text x="508.85" y="666.50" font-size="8.8" fill="#231f20" stroke="#231f20" stroke-width="0.15" text-anchor="middle">5</text>
<text x="381.90" y="677.50" font-size="9.6" fill="#231f20" stroke="#231f20" stroke-width="0.15" textLength="68.8" lengthAdjust="spacingAndGlyphs">Years post-treatment</text>
<text transform="translate(295.9,574.9) rotate(-90)" font-size="9.8" fill="#231f20" stroke="#231f20" stroke-width="0.15" text-anchor="middle" textLength="68" lengthAdjust="spacingAndGlyphs">Relapse-free survival</text>
<text x="413.90" y="613.20" font-size="8.5" fill="#231f20" stroke="#231f20" stroke-width="0.1" text-anchor="middle" textLength="99.5" lengthAdjust="spacingAndGlyphs">HR 1.08 (0.74&#8211;1.58), P=0.69</text>
<rect x="325.5" y="634.20" width="10.2" height="1.5" fill="#245e94"/>
<rect x="325.5" y="644.50" width="10.2" height="1.5" fill="#c8102e"/>
<text x="337.70" y="637.60" font-size="8.5" fill="#231f20" stroke="#231f20" stroke-width="0.15" textLength="48.2" lengthAdjust="spacingAndGlyphs">Corticosteroid</text>
<text x="337.70" y="647.90" font-size="8.5" fill="#231f20" stroke="#231f20" stroke-width="0.15" textLength="33.6" lengthAdjust="spacingAndGlyphs">Rituximab</text>
<text x="319.50" y="690.30" font-size="8.9" fill="#245e94" stroke="#245e94" stroke-width="0.15" text-anchor="middle" textLength="13.200000000000001" lengthAdjust="spacingAndGlyphs">166</text>
<text x="319.50" y="699.40" font-size="8.9" fill="#c8102e" stroke="#c8102e" stroke-width="0.15" text-anchor="middle" textLength="13.200000000000001" lengthAdjust="spacingAndGlyphs">179</text>
<text x="357.37" y="690.30" font-size="8.9" fill="#245e94" stroke="#245e94" stroke-width="0.15" text-anchor="middle" textLength="8.8" lengthAdjust="spacingAndGlyphs">93</text>
<text x="357.37" y="699.40" font-size="8.9" fill="#c8102e" stroke="#c8102e" stroke-width="0.15" text-anchor="middle" textLength="13.200000000000001" lengthAdjust="spacingAndGlyphs">104</text>
<text x="395.24" y="690.30" font-size="8.9" fill="#245e94" stroke="#245e94" stroke-width="0.15" text-anchor="middle" textLength="8.8" lengthAdjust="spacingAndGlyphs">70</text>
<text x="395.24" y="699.40" font-size="8.9" fill="#c8102e" stroke="#c8102e" stroke-width="0.15" text-anchor="middle" textLength="8.8" lengthAdjust="spacingAndGlyphs">66</text>
<text x="433.11" y="690.30" font-size="8.9" fill="#245e94" stroke="#245e94" stroke-width="0.15" text-anchor="middle" textLength="8.8" lengthAdjust="spacingAndGlyphs">50</text>
<text x="433.11" y="699.40" font-size="8.9" fill="#c8102e" stroke="#c8102e" stroke-width="0.15" text-anchor="middle" textLength="8.8" lengthAdjust="spacingAndGlyphs">41</text>
<text x="470.98" y="690.30" font-size="8.9" fill="#245e94" stroke="#245e94" stroke-width="0.15" text-anchor="middle" textLength="8.8" lengthAdjust="spacingAndGlyphs">40</text>
<text x="470.98" y="699.40" font-size="8.9" fill="#c8102e" stroke="#c8102e" stroke-width="0.15" text-anchor="middle" textLength="8.8" lengthAdjust="spacingAndGlyphs">27</text>
<text x="508.85" y="690.30" font-size="8.9" fill="#245e94" stroke="#245e94" stroke-width="0.15" text-anchor="middle" textLength="8.8" lengthAdjust="spacingAndGlyphs">26</text>
<text x="508.85" y="699.40" font-size="8.9" fill="#c8102e" stroke="#c8102e" stroke-width="0.15" text-anchor="middle" textLength="8.8" lengthAdjust="spacingAndGlyphs">19</text>
<text x="274.40" y="695.60" font-size="8.6" fill="#231f20" stroke="#231f20" stroke-width="0.25" textLength="24.6" lengthAdjust="spacingAndGlyphs" letter-spacing="0.4">At risk:</text>
<path d="M52.0,24.4 L53.5,29.0 L54.0,30.1 L60.5,30.1 L61.0,31.8 L71.2,31.8 L72.0,33.9 L97.0,33.9 L97.0,36.2 L122.7,36.2 L122.7,39.2 L129.2,39.2 L131.0,44.6 L144.5,44.6 L144.5,48.2 L157.3,48.2 L157.3,51.5 L162.0,51.5 L162.0,54.8 L172.0,54.8 L172.0,59.5 L243.3,59.5" fill="none" stroke="#c8102e" stroke-width="1.4" stroke-linejoin="miter"/>
<path d="M56.6,27.8v4.6M58.2,27.8v4.6M62.8,29.5v4.6M64.3,29.5v4.6M65.8,29.5v4.6M67.4,29.5v4.6M68.9,29.5v4.6M70.0,29.5v4.6M72.8,31.6v4.6M74.3,31.6v4.6M77.8,31.6v4.6M79.3,31.6v4.6M86.6,31.6v4.6M90.0,31.6v4.6M99.6,33.9v4.6M101.2,33.9v4.6M103.5,33.9v4.6M109.6,33.9v4.6M115.0,33.9v4.6M123.5,36.9v4.6M125.8,36.9v4.6M128.0,36.9v4.6M131.2,42.3v4.6M134.2,42.3v4.6M146.5,45.9v4.6M155.8,45.9v4.6M157.3,45.9v4.6M165.0,52.5v4.6M169.6,52.5v4.6M171.9,52.5v4.6M173.5,57.2v4.6M178.5,57.2v4.6M180.4,57.2v4.6M182.7,57.2v4.6M184.2,57.2v4.6M198.0,57.2v4.6M200.4,57.2v4.6M201.9,57.2v4.6M224.5,57.2v4.6M238.4,57.2v4.6M241.3,57.2v4.6" fill="none" stroke="#c8102e" stroke-width="1"/>
<path d="M52.0,24.4 L55.0,32.0 L57.4,36.6 L57.4,37.0 L61.2,37.0 L61.2,46.2 L65.5,46.2 L65.5,46.6 L70.8,46.6 L70.8,49.8 L77.5,49.8 L80.0,54.0 L82.7,58.8 L84.0,59.8 L94.5,59.8 L94.5,62.3 L107.5,62.3 L110.4,64.6 L113.8,64.6 L119.6,69.8 L124.5,69.8 L124.5,75.4 L127.7,77.1 L131.2,79.4 L132.0,85.2 L134.0,86.9 L137.5,87.5 L139.8,89.2 L141.0,90.6 L149.0,90.6 L150.0,94.4 L159.4,94.4 L159.4,96.3 L175.0,96.3 L175.0,98.4 L201.2,98.4 L201.2,100.4 L205.8,100.4 L205.8,102.2 L217.3,102.2 L217.3,105.0 L243.0,105.0" fill="none" stroke="#245e94" stroke-width="1.4" stroke-linejoin="miter"/>
<path d="M62.0,43.9v4.6M63.2,43.9v4.6M76.6,47.5v4.6M78.2,48.7v4.6M87.9,57.5v4.6M93.1,57.5v4.6M94.2,57.5v4.6M98.8,60.0v4.6M107.5,60.0v4.6M161.7,94.0v4.6M164.0,94.0v4.6M176.0,96.1v4.6M186.5,96.1v4.6M191.5,96.1v4.6M192.7,96.1v4.6M198.0,96.1v4.6M209.6,99.9v4.6M218.0,102.7v4.6M238.8,102.7v4.6M241.2,102.7v4.6" fill="none" stroke="#245e94" stroke-width="1"/>
<path d="M319.5,24.4 L320.3,28.0 L320.9,30.4 L324.9,32.1 L329.5,32.7 L335.3,35.6 L341.0,39.0 L345.7,40.8 L350.8,46.9 L356.9,53.8 L363.1,56.9 L369.2,61.5 L376.9,65.4 L384.6,68.5 L387.7,73.8 L392.3,75.4 L401.5,81.5 L404.6,85.4 L410.8,89.2 L413.8,92.3 L420.0,93.8 L427.7,96.2 L438.5,99.2 L440.8,102.3 L449.2,102.3 L455.0,106.9 L464.4,106.9 L466.3,111.5 L472.5,111.5 L472.5,112.5 L490.0,112.5 L492.5,114.4 L495.0,116.9 L500.0,118.8 L502.5,121.3 L508.8,123.1 L510.6,123.1" fill="none" stroke="#c8102e" stroke-width="1.4" stroke-linejoin="miter"/>
<path d="M320.3,25.7v4.6M322.0,28.6v4.6M326.0,29.9v4.6M331.0,31.2v4.6M337.0,34.3v4.6M343.0,37.5v4.6M349.0,42.4v4.6M352.0,46.0v4.6M358.0,52.1v4.6M366.0,56.8v4.6M371.0,60.1v4.6M376.0,62.6v4.6M381.0,64.8v4.6M389.0,72.0v4.6M396.0,75.6v4.6M401.0,78.9v4.6M405.0,83.3v4.6M413.0,89.2v4.6M419.0,91.3v4.6M424.0,92.7v4.6M430.0,94.5v4.6M436.0,96.2v4.6M443.0,100.0v4.6M447.0,100.0v4.6M456.0,104.6v4.6M466.0,108.5v4.6M472.5,109.2v4.6M476.9,110.2v4.6M481.0,110.2v4.6M485.0,110.2v4.6M491.3,111.2v4.6M495.0,114.6v4.6M500.0,116.5v4.6M508.8,120.8v4.6" fill="none" stroke="#c8102e" stroke-width="1"/>
<path d="M319.5,24.4 L321.5,31.0 L323.8,36.7 L329.5,40.8 L333.0,43.0 L335.9,48.8 L339.9,53.5 L345.4,55.4 L348.5,62.3 L355.4,63.8 L367.7,69.2 L369.2,72.3 L381.5,77.7 L392.3,80.8 L401.5,85.4 L409.2,86.9 L416.9,90.8 L425.4,95.4 L438.5,98.5 L447.7,99.2 L453.8,100.6 L460.0,102.5 L465.0,103.8 L473.8,105.6 L486.3,105.6 L491.3,107.5 L496.3,108.1 L500.0,110.6 L502.5,112.5 L510.6,112.5" fill="none" stroke="#245e94" stroke-width="1.4" stroke-linejoin="miter"/>
<path d="M322.0,29.9v4.6M324.0,34.5v4.6M327.0,36.7v4.6M331.0,39.4v4.6M333.0,40.7v4.6M344.0,52.6v4.6M347.0,56.7v4.6M353.0,61.0v4.6M356.0,61.8v4.6M368.0,67.5v4.6M387.0,77.0v4.6M393.0,78.8v4.6M402.0,83.2v4.6M410.0,85.0v4.6M414.0,87.0v4.6M420.0,90.2v4.6M425.0,92.9v4.6M433.0,94.9v4.6M439.0,96.2v4.6M442.0,96.5v4.6M445.0,96.7v4.6M447.0,96.8v4.6M459.4,100.0v4.6M465.6,101.6v4.6M468.8,102.3v4.6M471.3,102.8v4.6M480.0,103.3v4.6M482.5,103.3v4.6M487.5,103.8v4.6M491.3,105.2v4.6M493.8,105.5v4.6M502.5,110.2v4.6M505.6,110.2v4.6M508.8,110.2v4.6" fill="none" stroke="#245e94" stroke-width="1"/>
<path d="M52.0,262.2 L53.0,265.2 L60.6,265.2 L60.6,268.1 L70.7,268.1 L70.7,272.5 L143.6,272.5 L143.6,280.8 L162.0,280.8 L162.0,290.5 L242.6,290.5" fill="none" stroke="#c8102e" stroke-width="1.4" stroke-linejoin="miter"/>
<path d="M56.3,262.9v4.6M61.0,265.8v4.6M63.9,265.8v4.6M68.8,265.8v4.6M74.5,270.2v4.6M79.8,270.2v4.6M86.5,270.2v4.6M90.9,270.2v4.6M91.8,270.2v4.6M98.8,270.2v4.6M100.4,270.2v4.6M108.8,270.2v4.6M122.7,270.2v4.6M124.2,270.2v4.6M127.3,270.2v4.6M130.4,270.2v4.6M131.9,270.2v4.6M134.2,270.2v4.6M154.8,278.5v4.6M155.8,278.5v4.6M168.6,288.2v4.6M170.7,288.2v4.6M172.8,288.2v4.6M202.4,288.2v4.6M224.6,288.2v4.6M238.4,288.2v4.6M241.5,288.2v4.6" fill="none" stroke="#c8102e" stroke-width="1"/>
<path d="M52.0,262.2 L53.8,266.7 L55.3,270.5 L57.2,272.4 L57.7,276.3 L61.5,276.3 L61.5,280.4 L124.2,280.4 L124.2,284.9 L125.0,289.5 L129.6,289.5 L129.6,291.0 L131.9,291.0 L131.9,294.0 L149.5,294.0 L151.0,302.8 L159.0,302.8 L159.0,308.7 L201.3,308.7 L201.3,314.8 L217.2,314.8 L217.2,321.4 L242.6,321.4" fill="none" stroke="#245e94" stroke-width="1.4" stroke-linejoin="miter"/>
<path d="M61.5,274.0v4.6M71.2,278.1v4.6M93.8,278.1v4.6M98.6,278.1v4.6M124.2,278.1v4.6M126.5,287.2v4.6M131.0,288.7v4.6M163.3,306.4v4.6M176.0,306.4v4.6M186.5,306.4v4.6M192.9,306.4v4.6M198.2,306.4v4.6M209.8,312.5v4.6M239.4,319.1v4.6M241.5,319.1v4.6" fill="none" stroke="#245e94" stroke-width="1"/>
<path d="M319.5,262.2 L322.7,266.5 L325.6,269.4 L327.5,271.3 L354.4,271.3 L356.3,276.2 L362.1,276.2 L362.1,279.0 L368.8,279.0 L368.8,281.9 L386.2,281.9 L386.2,285.6 L402.2,285.6 L402.2,288.8 L407.7,288.8 L407.7,292.1 L412.2,292.1 L412.2,297.0 L429.9,297.0 L429.9,299.9 L452.0,299.9 L453.0,305.4 L455.3,312.0 L466.4,312.0 L466.4,318.7 L474.1,318.7 L474.1,325.5 L493.5,325.5 L493.5,332.8 L498.2,332.8 L498.2,343.6 L508.6,343.6" fill="none" stroke="#c8102e" stroke-width="1.4" stroke-linejoin="miter"/>
<path d="M322.0,263.3v4.6M325.0,266.5v4.6M330.4,269.0v4.6M332.3,269.0v4.6M335.2,269.0v4.6M337.1,269.0v4.6M344.8,269.0v4.6M350.6,269.0v4.6M356.3,273.9v4.6M359.2,273.9v4.6M362.1,273.9v4.6M370.8,279.6v4.6M377.5,279.6v4.6M383.3,279.6v4.6M395.8,283.3v4.6M405.4,286.5v4.6M414.4,294.7v4.6M425.4,294.7v4.6M432.1,297.6v4.6M433.2,297.6v4.6M437.6,297.6v4.6M438.7,297.6v4.6M444.2,297.6v4.6M449.8,297.6v4.6M466.4,309.7v4.6M470.8,316.4v4.6M476.3,323.2v4.6M493.5,323.2v4.6M495.5,330.5v4.6" fill="none" stroke="#c8102e" stroke-width="1"/>
<path d="M319.5,262.2 L321.7,266.5 L323.7,270.4 L325.6,280.0 L330.4,280.0 L334.2,286.7 L338.1,291.5 L343.8,291.5 L349.6,296.3 L352.5,299.2 L366.9,299.2 L372.7,306.0 L382.3,306.0 L382.3,308.8 L395.5,308.8 L396.7,311.7 L400.0,312.7 L406.6,312.7 L406.6,315.8 L416.6,315.8 L416.6,320.9 L433.2,320.9 L433.2,323.1 L453.1,323.1 L453.1,326.4 L456.4,329.3 L466.4,329.3 L466.4,332.4 L497.5,332.4 L499.0,336.5 L510.6,336.5" fill="none" stroke="#245e94" stroke-width="1.4" stroke-linejoin="miter"/>
<path d="M331.0,278.8v4.6M344.0,289.4v4.6M346.0,291.0v4.6M357.0,296.9v4.6M359.0,296.9v4.6M361.0,296.9v4.6M377.0,303.7v4.6M391.9,306.5v4.6M394.8,306.5v4.6M404.4,310.4v4.6M412.2,313.5v4.6M416.6,313.5v4.6M424.3,318.6v4.6M435.4,320.8v4.6M438.7,320.8v4.6M442.0,320.8v4.6M445.4,320.8v4.6M467.5,330.1v4.6M469.7,330.1v4.6M483.0,330.1v4.6M488.1,330.1v4.6M508.9,334.2v4.6" fill="none" stroke="#245e94" stroke-width="1"/>
<path d="M52.0,499.7 L52.4,504.1 L55.3,507.6 L96.2,507.6 L96.2,512.0 L122.3,512.0 L124.0,516.4 L129.0,516.4 L129.0,527.0 L157.9,527.0 L157.9,532.1 L171.4,532.1 L171.4,538.8 L241.9,538.8" fill="none" stroke="#c8102e" stroke-width="1.4" stroke-linejoin="miter"/>
<path d="M57.7,505.3v4.6M62.0,505.3v4.6M65.9,505.3v4.6M67.3,505.3v4.6M69.2,505.3v4.6M72.6,505.3v4.6M77.9,505.3v4.6M86.5,505.3v4.6M89.4,505.3v4.6M99.2,509.7v4.6M103.1,509.7v4.6M115.4,509.7v4.6M123.1,511.8v4.6M125.4,514.1v4.6M127.7,514.1v4.6M146.3,524.7v4.6M163.9,529.8v4.6M165.2,529.8v4.6M169.8,529.8v4.6M178.7,536.5v4.6M180.5,536.5v4.6M184.0,536.5v4.6M197.5,536.5v4.6M201.0,536.5v4.6M241.9,536.5v4.6" fill="none" stroke="#c8102e" stroke-width="1"/>
<path d="M52.0,499.7 L54.3,506.5 L56.3,508.0 L56.3,511.3 L61.0,511.3 L61.0,520.8 L63.8,523.0 L70.8,523.0 L70.8,528.5 L76.9,528.5 L79.2,534.6 L81.5,540.0 L84.6,543.1 L88.5,544.6 L93.1,544.6 L96.2,546.9 L106.9,546.9 L108.5,552.3 L113.8,552.3 L116.2,556.9 L118.5,560.0 L123.8,560.0 L124.6,566.2 L127.7,566.2 L130.8,573.1 L132.3,576.9 L133.8,580.3 L137.7,580.3 L139.2,584.6 L141.5,585.8 L174.6,585.8 L174.6,589.2 L205.6,589.2 L205.6,592.1 L241.1,592.1" fill="none" stroke="#245e94" stroke-width="1.4" stroke-linejoin="miter"/>
<path d="M61.0,509.0v4.6M63.9,520.7v4.6M76.9,526.2v4.6M87.7,542.0v4.6M93.8,542.8v4.6M95.4,544.0v4.6M106.9,544.6v4.6M115.0,552.3v4.6M127.0,563.9v4.6M142.0,583.5v4.6M163.1,583.5v4.6M192.1,586.9v4.6" fill="none" stroke="#245e94" stroke-width="1"/>
<path d="M319.5,499.7 L319.6,501.2 L321.9,506.5 L325.8,508.8 L330.4,508.8 L335.0,511.2 L339.6,514.2 L346.5,518.8 L349.6,523.5 L353.5,529.6 L356.5,534.2 L362.7,537.3 L366.5,541.9 L370.0,543.8 L373.1,547.7 L379.2,550.8 L385.4,553.8 L386.9,558.5 L392.3,560.0 L395.4,566.2 L401.5,569.2 L403.1,574.6 L408.5,576.9 L413.8,580.0 L420.8,583.1 L428.5,584.6 L434.6,586.2 L437.3,587.8 L439.6,593.0 L449.6,593.0 L450.4,594.5 L465.0,594.5 L467.3,598.5 L493.5,598.5 L495.0,601.6 L501.2,601.6 L503.5,604.2 L505.8,606.2 L509.6,606.2" fill="none" stroke="#c8102e" stroke-width="1.4" stroke-linejoin="miter"/>
<path d="M320.0,499.8v4.6M322.0,504.3v4.6M327.0,506.5v4.6M333.0,507.9v4.6M339.0,511.5v4.6M344.0,514.8v4.6M350.0,521.8v4.6M356.0,531.1v4.6M362.0,534.6v4.6M369.0,541.0v4.6M375.0,546.4v4.6M381.0,549.4v4.6M385.0,551.3v4.6M389.0,556.8v4.6M392.0,557.6v4.6M395.0,563.1v4.6M401.0,566.7v4.6M404.0,572.7v4.6M410.0,575.5v4.6M416.0,578.7v4.6M422.0,581.0v4.6M428.0,582.2v4.6M432.0,583.2v4.6M440.4,590.7v4.6M447.3,590.7v4.6M448.8,590.7v4.6M456.5,592.2v4.6M466.5,594.8v4.6M471.9,596.2v4.6M476.5,596.2v4.6M485.0,596.2v4.6M491.2,596.2v4.6M501.2,599.3v4.6M508.8,603.9v4.6" fill="none" stroke="#c8102e" stroke-width="1"/>
<path d="M319.5,499.7 L320.4,505.0 L324.2,510.4 L327.3,514.2 L333.5,515.0 L335.0,522.7 L338.1,527.3 L343.5,531.9 L346.5,534.2 L348.1,540.4 L353.5,541.2 L358.8,544.2 L365.8,548.1 L369.6,553.5 L374.6,553.8 L379.2,558.5 L385.4,558.5 L393.1,560.8 L399.2,566.9 L406.9,567.7 L412.3,570.3 L414.6,573.8 L420.8,574.6 L425.4,578.5 L429.2,582.2 L445.0,582.2 L447.3,584.2 L458.8,584.2 L460.4,585.8 L471.9,585.8 L472.7,587.3 L485.8,587.3 L488.8,589.6 L490.4,591.2 L496.5,591.2 L501.2,595.0 L509.6,595.0" fill="none" stroke="#245e94" stroke-width="1.4" stroke-linejoin="miter"/>
<path d="M321.0,503.6v4.6M323.0,506.4v4.6M327.0,511.5v4.6M329.0,512.1v4.6M331.0,512.4v4.6M336.0,521.9v4.6M339.0,525.8v4.6M344.0,530.0v4.6M349.0,538.2v4.6M354.0,539.2v4.6M358.0,541.4v4.6M364.0,544.8v4.6M374.0,551.5v4.6M378.0,555.0v4.6M389.0,557.3v4.6M400.0,564.7v4.6M407.0,565.4v4.6M409.0,566.4v4.6M411.0,567.4v4.6M415.0,571.6v4.6M419.0,572.1v4.6M436.5,579.9v4.6M442.7,579.9v4.6M444.2,579.9v4.6M447.3,581.9v4.6M458.1,581.9v4.6M465.8,583.5v4.6M471.2,583.5v4.6M480.4,585.0v4.6M482.7,585.0v4.6M491.2,588.9v4.6M494.2,588.9v4.6M501.2,592.7v4.6M504.2,592.7v4.6M506.5,592.7v4.6M508.8,592.7v4.6" fill="none" stroke="#245e94" stroke-width="1"/>
<rect x="0.5" y="0.5" width="519" height="705" fill="none" stroke="#000" stroke-width="1"/>
</svg>
</body></html>
